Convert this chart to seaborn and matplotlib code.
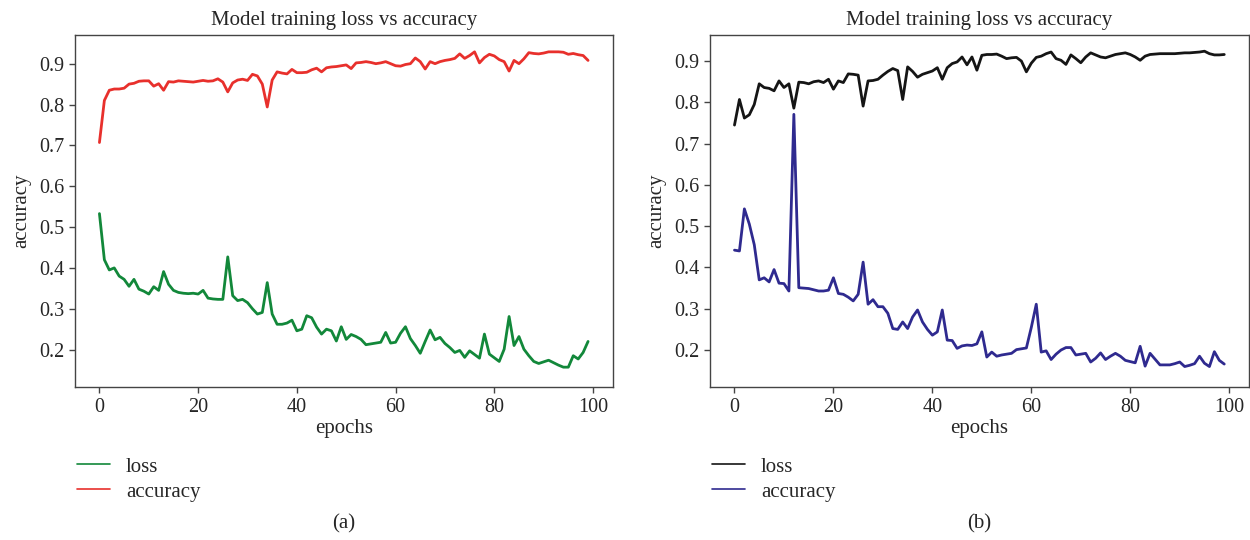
import matplotlib
matplotlib.use("Agg")
import matplotlib.pyplot as plt
import seaborn as sns
import numpy as np

# epochs 0..99
epochs = np.arange(100)

# (a) green "loss" and red "accuracy"
a_loss = [0.533, 0.420, 0.395, 0.400, 0.380, 0.372, 0.355, 0.372, 0.348, 0.343,
          0.336, 0.354, 0.345, 0.391, 0.360, 0.345, 0.340, 0.338, 0.337, 0.338,
          0.336, 0.345, 0.326, 0.324, 0.323, 0.323, 0.427, 0.332, 0.320, 0.323,
          0.315, 0.300, 0.287, 0.291, 0.364, 0.287, 0.262, 0.262, 0.265, 0.272,
          0.246, 0.250, 0.283, 0.278, 0.255, 0.238, 0.250, 0.246, 0.221, 0.256,
          0.225, 0.237, 0.232, 0.225, 0.212, 0.214, 0.216, 0.218, 0.242, 0.216,
          0.218, 0.240, 0.256, 0.227, 0.210, 0.191, 0.220, 0.248, 0.224, 0.230,
          0.215, 0.205, 0.193, 0.198, 0.181, 0.197, 0.188, 0.179, 0.238, 0.189,
          0.180, 0.171, 0.201, 0.281, 0.210, 0.232, 0.201, 0.185, 0.171, 0.166,
          0.170, 0.174, 0.168, 0.162, 0.157, 0.157, 0.185, 0.177, 0.193, 0.220]

a_acc = [0.707, 0.810, 0.835, 0.838, 0.838, 0.840, 0.850, 0.852, 0.857, 0.858,
         0.858, 0.845, 0.851, 0.835, 0.856, 0.855, 0.858, 0.857, 0.856, 0.855,
         0.857, 0.859, 0.857, 0.858, 0.863, 0.855, 0.831, 0.853, 0.860, 0.862,
         0.859, 0.874, 0.870, 0.850, 0.794, 0.860, 0.880, 0.877, 0.875, 0.886,
         0.878, 0.878, 0.879, 0.885, 0.889, 0.880, 0.890, 0.892, 0.893, 0.895,
         0.897, 0.888, 0.902, 0.903, 0.905, 0.903, 0.900, 0.902, 0.905, 0.900,
         0.895, 0.894, 0.898, 0.900, 0.914, 0.905, 0.887, 0.905, 0.900, 0.905,
         0.908, 0.910, 0.913, 0.924, 0.913, 0.920, 0.929, 0.902, 0.915, 0.923,
         0.919, 0.910, 0.905, 0.882, 0.908, 0.900, 0.912, 0.927, 0.925, 0.924,
         0.926, 0.929, 0.929, 0.929, 0.928, 0.923, 0.925, 0.922, 0.920, 0.908]

# (b) black "loss" and blue "accuracy"
b_loss = [0.745, 0.807, 0.762, 0.770, 0.795, 0.845, 0.836, 0.834, 0.828, 0.852,
          0.836, 0.845, 0.786, 0.849, 0.848, 0.845, 0.850, 0.852, 0.848, 0.856,
          0.832, 0.852, 0.848, 0.869, 0.868, 0.866, 0.791, 0.852, 0.853, 0.856,
          0.866, 0.875, 0.882, 0.877, 0.807, 0.886, 0.875, 0.861, 0.868, 0.872,
          0.876, 0.884, 0.856, 0.884, 0.894, 0.898, 0.910, 0.891, 0.910, 0.878,
          0.914, 0.916, 0.916, 0.917, 0.912, 0.906, 0.908, 0.909, 0.900, 0.874,
          0.895, 0.909, 0.912, 0.918, 0.922, 0.906, 0.902, 0.892, 0.915, 0.906,
          0.896, 0.910, 0.920, 0.915, 0.910, 0.908, 0.912, 0.916, 0.918, 0.920,
          0.916, 0.910, 0.902, 0.912, 0.916, 0.917, 0.918, 0.918, 0.918, 0.918,
          0.919, 0.920, 0.920, 0.921, 0.922, 0.924, 0.918, 0.915, 0.915, 0.916]

b_acc = [0.442, 0.440, 0.542, 0.505, 0.455, 0.370, 0.375, 0.365, 0.395, 0.362,
         0.361, 0.343, 0.771, 0.351, 0.350, 0.349, 0.346, 0.343, 0.343, 0.345,
         0.375, 0.337, 0.335, 0.328, 0.319, 0.335, 0.413, 0.311, 0.322, 0.305,
         0.305, 0.289, 0.252, 0.250, 0.268, 0.252, 0.280, 0.297, 0.268, 0.250,
         0.236, 0.244, 0.297, 0.224, 0.223, 0.204, 0.210, 0.212, 0.211, 0.215,
         0.244, 0.183, 0.195, 0.185, 0.188, 0.190, 0.192, 0.201, 0.203, 0.205,
         0.255, 0.311, 0.195, 0.198, 0.177, 0.190, 0.200, 0.206, 0.206, 0.188,
         0.190, 0.192, 0.171, 0.180, 0.193, 0.177, 0.185, 0.192, 0.185, 0.175,
         0.172, 0.169, 0.209, 0.161, 0.192, 0.178, 0.164, 0.164, 0.164, 0.167,
         0.171, 0.160, 0.163, 0.167, 0.185, 0.168, 0.160, 0.196, 0.175, 0.166]

sns.set_theme(style="ticks")
plt.rcParams['font.family'] = ['Liberation Serif', 'DejaVu Serif']
plt.rcParams['axes.edgecolor'] = '#444444'
plt.rcParams['axes.linewidth'] = 1.0

fig = plt.figure(figsize=(12.5, 5.4), dpi=100)
ax1 = fig.add_axes([0.060, 0.283, 0.430, 0.652])
ax2 = fig.add_axes([0.568, 0.283, 0.431, 0.652])

panels = [
    (ax1, a_loss, a_acc, '#12883a', '#e8302c', (0.108, 0.970), '(a)'),
    (ax2, b_loss, b_acc, '#151515', '#2f2a8f', (0.110, 0.963), '(b)'),
]

for ax, loss, acc, c_loss, c_acc, ylim, tag in panels:
    sns.lineplot(x=epochs, y=loss, color=c_loss, lw=2.0, label='loss', ax=ax)
    sns.lineplot(x=epochs, y=acc, color=c_acc, lw=2.0, label='accuracy', ax=ax)
    ax.set_ylim(*ylim)
    ax.set_xticks([0, 20, 40, 60, 80, 100])
    ax.set_yticks([0.2, 0.3, 0.4, 0.5, 0.6, 0.7, 0.8, 0.9])
    ax.tick_params(labelsize=14.5, length=4, width=1, color='#444444', direction='out')
    for s in ax.spines.values():
        s.set_visible(True)
    ax.set_title('Model training loss vs accuracy', fontsize=15, pad=7)
    ax.set_xlabel('epochs', fontsize=15, labelpad=2)
    ax.set_ylabel('accuracy', fontsize=15, labelpad=6)
    leg = ax.legend(loc='upper left', bbox_to_anchor=(-0.012, -0.175), frameon=False,
                    fontsize=15, handlelength=1.6, handletextpad=0.75,
                    labelspacing=0.25, borderaxespad=0)
    for line in leg.get_lines():
        line.set_linewidth(1.2)
    pos = ax.get_position()
    fig.text((pos.x0 + pos.x1) / 2, 0.03, tag, ha='center', va='center', fontsize=15)

fig.savefig('out.png', dpi=100)
